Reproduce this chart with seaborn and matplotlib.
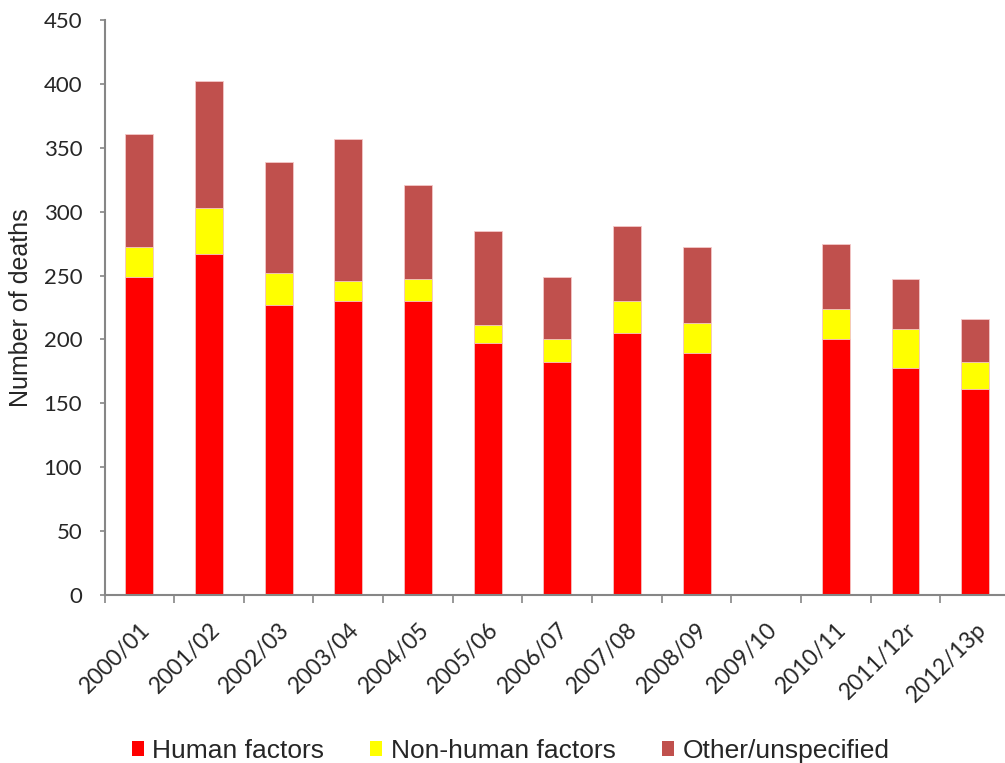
import numpy as np
import pandas as pd
import seaborn as sns
import matplotlib.pyplot as plt
from matplotlib.patches import Patch

periods = ["2000/01", "2001/02", "2002/03", "2003/04", "2004/05", "2005/06",
           "2006/07", "2007/08", "2008/09", "2009/10", "2010/11", "2011/12r",
           "2012/13p"]
human = [249, 267, 227, 230, 230, 197, 182, 205, 189, np.nan, 200, 178, 161]
non_human = [23, 36, 25, 16, 17, 14, 18, 25, 24, np.nan, 24, 30, 21]
other = [89, 99, 87, 111, 74, 74, 49, 59, 59, np.nan, 51, 39, 34]

labels = ["Human factors", "Non-human factors", "Other/unspecified"]
colors = ["#FF0000", "#FFFF00", "#C0504D"]

df = pd.DataFrame({"period": periods, "human": human,
                   "non_human": non_human, "other": other})
df["lvl2"] = df["human"] + df["non_human"]
df["lvl3"] = df["lvl2"] + df["other"]

sns.set_style("white")
plt.rcParams["font.family"] = ["Lato", "DejaVu Sans"]

fig = plt.figure(figsize=(10.05, 7.63), dpi=100)
ax = fig.add_axes([0.104, 0.2202, 0.901, 0.7536])

# stacked bars: draw the cumulative totals from the top layer down
for col, c in zip(["lvl3", "lvl2", "human"], colors[::-1]):
    sns.barplot(data=df, x="period", y=col, order=periods, color=c,
                width=0.4, saturation=1, edgecolor="#F4C8C8", linewidth=0.6,
                errorbar=None, ax=ax)

ax.set_ylim(0, 450)
ax.set_xlim(-0.5, 12.5)
ax.set_yticks(range(0, 451, 50))
ax.tick_params(axis="y", labelsize=16, length=3.6, width=1.2, color="#868686",
               direction="out", left=True, pad=12.5)
ax.set_xticks(range(len(periods)))
ax.set_xticklabels(periods, rotation=45, ha="right", rotation_mode="anchor",
                   fontsize=16.5)
ax.tick_params(axis="x", length=0, pad=17)
ax.set_xticks(np.arange(-0.5, 12.6, 1), minor=True)
ax.tick_params(axis="x", which="minor", length=6, width=1.2, color="#868686",
               direction="out", bottom=True)

for s in ["top", "right"]:
    ax.spines[s].set_visible(False)
for s in ["left", "bottom"]:
    ax.spines[s].set_color("#868686")
    ax.spines[s].set_linewidth(1.5)

ax.set_xlabel("")
ax.set_ylabel("Number of deaths", fontsize=18, family="Liberation Sans")
ax.yaxis.set_label_coords(-0.079, 0.5)

handles = [Patch(facecolor=c, edgecolor="none") for c in colors]
fig.legend(handles, labels, loc="center", bbox_to_anchor=(0.508, 0.016),
           ncol=3, frameon=False, handlelength=0.46, handleheight=0.52,
           handletextpad=0.32, columnspacing=1.75,
           prop={"family": "Liberation Sans", "size": 19})

fig.savefig("out.png", dpi=100)
